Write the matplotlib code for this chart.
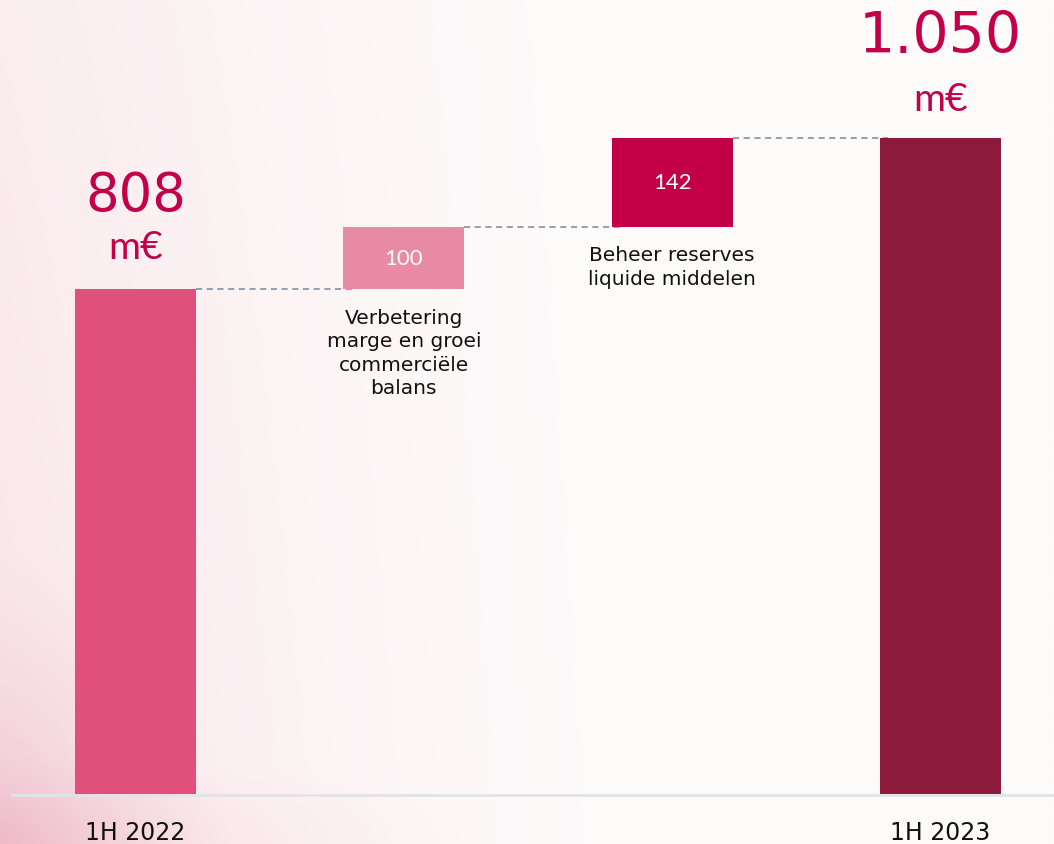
import matplotlib.pyplot as plt
import numpy as np
from matplotlib.colors import to_rgb

# waterfall data (m€)
labels = ['1H 2022', '', '', '1H 2023']
start_value = 808
steps = [100, 142]
end_value = 1050
step_texts = ['Verbetering\nmarge en groei\ncommerciële\nbalans',
              'Beheer reserves\nliquide middelen']
colors = ['#e0507b', '#e98aa5', '#c30045', '#8b1a3c']

fig = plt.figure(figsize=(10.54, 8.45), dpi=100)

# background gradient (pink at left / bottom-left, near white elsewhere)
bg = fig.add_axes([0, 0, 1, 1], zorder=0)
bg.axis('off')
h, w = 200, 260
xx, yy = np.meshgrid(np.linspace(0, 1, w), np.linspace(0, 1, h))
t = 0.22 * np.clip(1 - xx / 0.6, 0, 1) ** 1.5 + 0.12 * (1 - xx) ** 3 * yy
t = t + 0.45 * np.clip(1 - np.hypot(xx / 0.22, (1 - yy) / 0.35), 0, 1) ** 1.3
t = t + 0.2 * np.clip(1 - np.hypot((xx - 0.05) / 0.4, (1 - yy) / 0.1), 0, 1)
t = np.clip(t, 0, 1)
c_light = np.array(to_rgb('#fefbfb'))
c_pink = np.array(to_rgb('#eeb9c8'))
img = c_light[None, None, :] * (1 - t[..., None]) + c_pink[None, None, :] * t[..., None]
bg.imshow(img, aspect='auto', extent=[0, 1, 0, 1], origin='upper', interpolation='bilinear')
bg.set_xlim(0, 1)
bg.set_ylim(0, 1)

ax = fig.add_axes([0, 0, 1, 1], zorder=1)
ax.patch.set_alpha(0)
ax.axis('off')
ax.set_xlim(-0.505, 3.423)
ax.set_ylim(-80, 1272.4)

x = np.arange(4)
bw = 0.45
bottoms = [0, start_value, start_value + steps[0], 0]
heights = [start_value, steps[0], steps[1], end_value]
ax.bar(x, heights, bottom=bottoms, width=bw, color=colors, zorder=3)

# connectors
tops = [start_value, start_value + steps[0], end_value]
for i in range(3):
    ax.plot([x[i] + bw / 2, x[i + 1] - bw / 2 + 0.03], [tops[i], tops[i]],
            ls=(0, (4, 3)), color='#7a8797', lw=1.1, zorder=2)

# baseline
ax.plot([-0.46, 3.423], [-2, -2], color='#e2e3e8', lw=2, zorder=2)

font = 'DejaVu Sans'
light = 'Lato'
# totals
ax.text(x[0], start_value + 150, str(start_value), ha='center', va='center',
        fontsize=38, color='#c3004a', family=font)
ax.text(x[0], start_value + 68, 'm€', ha='center', va='center',
        fontsize=28, color='#c3004a', family=light)
ax.text(x[3], end_value + 162, '1.050', ha='center', va='center',
        fontsize=41, color='#c3004a', family=font)
ax.text(x[3], end_value + 62, 'm€', ha='center', va='center',
        fontsize=28, color='#c3004a', family=light)

# step values and descriptions
for i, s in enumerate(steps):
    xi = x[i + 1]
    b = bottoms[i + 1]
    ax.text(xi, b + s / 2, str(s), ha='center', va='center',
            fontsize=16, color='white', family=light)
    ax.text(xi, b - 30, step_texts[i], ha='center', va='top',
            fontsize=14.5, color='#111111', family=font, linespacing=1.3)

# category labels
for xi, lab in zip(x, labels):
    if lab:
        ax.text(xi, -60, lab, ha='center', va='center', fontsize=17,
                color='#111111', family=font)

plt.savefig('out.png', dpi=100)
